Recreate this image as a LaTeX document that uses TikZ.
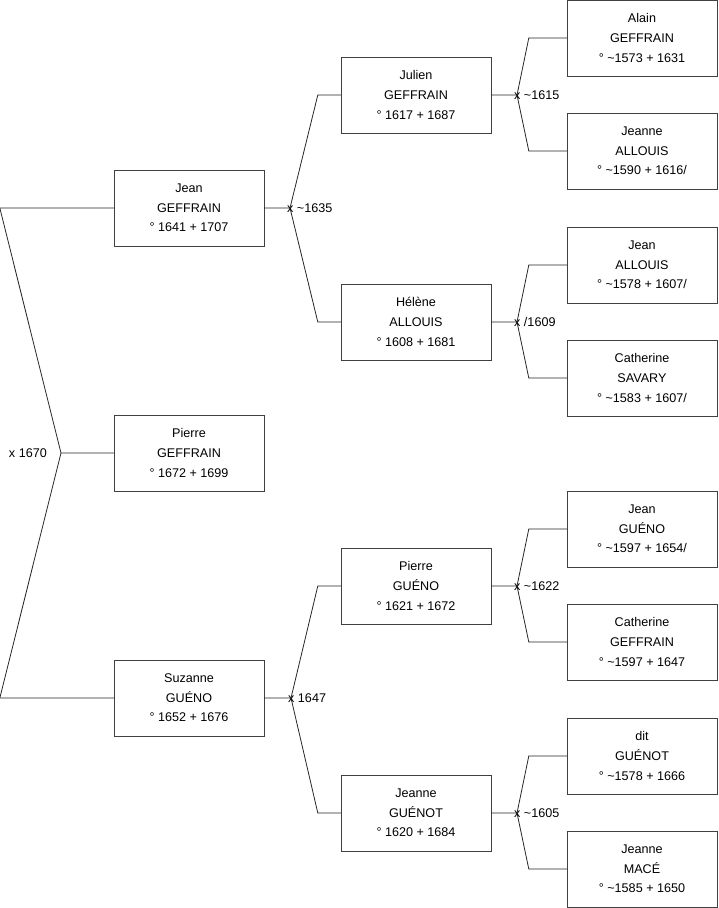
\documentclass[tikz,border=0pt]{standalone}
\usepackage{fontspec}
\setmainfont{Liberation Sans}
\usetikzlibrary{positioning, calc}

\begin{document}
\begin{tikzpicture}[
        x=1pt, y=-1pt,
        person/.style={draw=black!75, fill=white, minimum width=150pt,
                       minimum height=76pt, align=center, inner sep=0pt,
                       font=\fontsize{12.6}{19.6}\selectfont},
        link/.style={draw=black!85, line width=0.8pt},
        wedding/.style={anchor=west, inner sep=0pt, xshift=-3pt,
                        font=\fontsize{12.6}{14}\selectfont}
      ]
        \useasboundingbox (0,0) rectangle (719,908);
        % generation 1
        \node[person] (jean) at (189,208) {Jean\\GEFFRAIN\\° 1641 + 1707};
        \node[person] (pierre) at (189,453) {Pierre\\GEFFRAIN\\° 1672 + 1699};
        \node[person] (suzanne) at (189,698) {Suzanne\\GUÉNO\\° 1652 + 1676};
        % generation 2
        \node[person] (julien) at (416,95) {Julien\\GEFFRAIN\\° 1617 + 1687};
        \node[person] (helene) at (416,322) {Hélène\\ALLOUIS\\° 1608 + 1681};
        \node[person] (pierreg) at (416,586) {Pierre\\GUÉNO\\° 1621 + 1672};
        \node[person] (jeanneg) at (416,813) {Jeanne\\GUÉNOT\\° 1620 + 1684};
        % generation 3
        \node[person] (alain) at (642,38) {Alain\\GEFFRAIN\\° \textasciitilde1573 + 1631};
        \node[person] (jeannea) at (642,151) {Jeanne\\ALLOUIS\\° \textasciitilde1590 + 1616/};
        \node[person] (jeana) at (642,265) {Jean\\ALLOUIS\\° \textasciitilde1578 + 1607/};
        \node[person] (catherines) at (642,378) {Catherine\\SAVARY\\° \textasciitilde1583 + 1607/};
        \node[person] (jeang) at (642,529) {Jean\\GUÉNO\\° \textasciitilde1597 + 1654/};
        \node[person] (catherineg) at (642,642) {Catherine\\GEFFRAIN\\° \textasciitilde1597 + 1647};
        \node[person] (dit) at (642,756) {dit\\GUÉNOT\\° \textasciitilde1578 + 1666};
        \node[person] (jeannem) at (642,869) {Jeanne\\MACÉ\\° \textasciitilde1585 + 1650};
        % marriage points
        \coordinate (m0) at (61,453);
        \coordinate (m1) at (290,208);
        \coordinate (m2) at (291,698);
        \coordinate (m3) at (517,95);
        \coordinate (m4) at (517,322);
        \coordinate (m5) at (517,586);
        \coordinate (m6) at (517,813);
        % links
        \draw[link] (jean.west) -- ++(-114,0) -- (m0) -- (pierre.west);
        \draw[link] (suzanne.west) -- ++(-114,0) -- (m0);
        \draw[link] (julien.west) -- ++(-23,0) -- (m1) -- (jean.east);
        \draw[link] (helene.west) -- ++(-23,0) -- (m1);
        \draw[link] (pierreg.west) -- ++(-23,0) -- (m2) -- (suzanne.east);
        \draw[link] (jeanneg.west) -- ++(-23,0) -- (m2);
        \draw[link] (alain.west) -- ++(-38,0) -- (m3) -- (julien.east);
        \draw[link] (jeannea.west) -- ++(-38,0) -- (m3);
        \draw[link] (jeana.west) -- ++(-38,0) -- (m4) -- (helene.east);
        \draw[link] (catherines.west) -- ++(-38,0) -- (m4);
        \draw[link] (jeang.west) -- ++(-38,0) -- (m5) -- (pierreg.east);
        \draw[link] (catherineg.west) -- ++(-38,0) -- (m5);
        \draw[link] (dit.west) -- ++(-38,0) -- (m6) -- (jeanneg.east);
        \draw[link] (jeannem.west) -- ++(-38,0) -- (m6);
        % marriage labels
        \node[wedding, anchor=east, xshift=-11pt] (w0) at (m0) {x 1670};
        \node[wedding] (w1) at (m1) {x \textasciitilde1635};
        \node[wedding] (w2) at (m2) {x 1647};
        \node[wedding] (w3) at (m3) {x \textasciitilde1615};
        \node[wedding] (w4) at (m4) {x /1609};
        \node[wedding] (w5) at (m5) {x \textasciitilde1622};
        \node[wedding] (w6) at (m6) {x \textasciitilde1605};
      \end{tikzpicture}
\end{document}
